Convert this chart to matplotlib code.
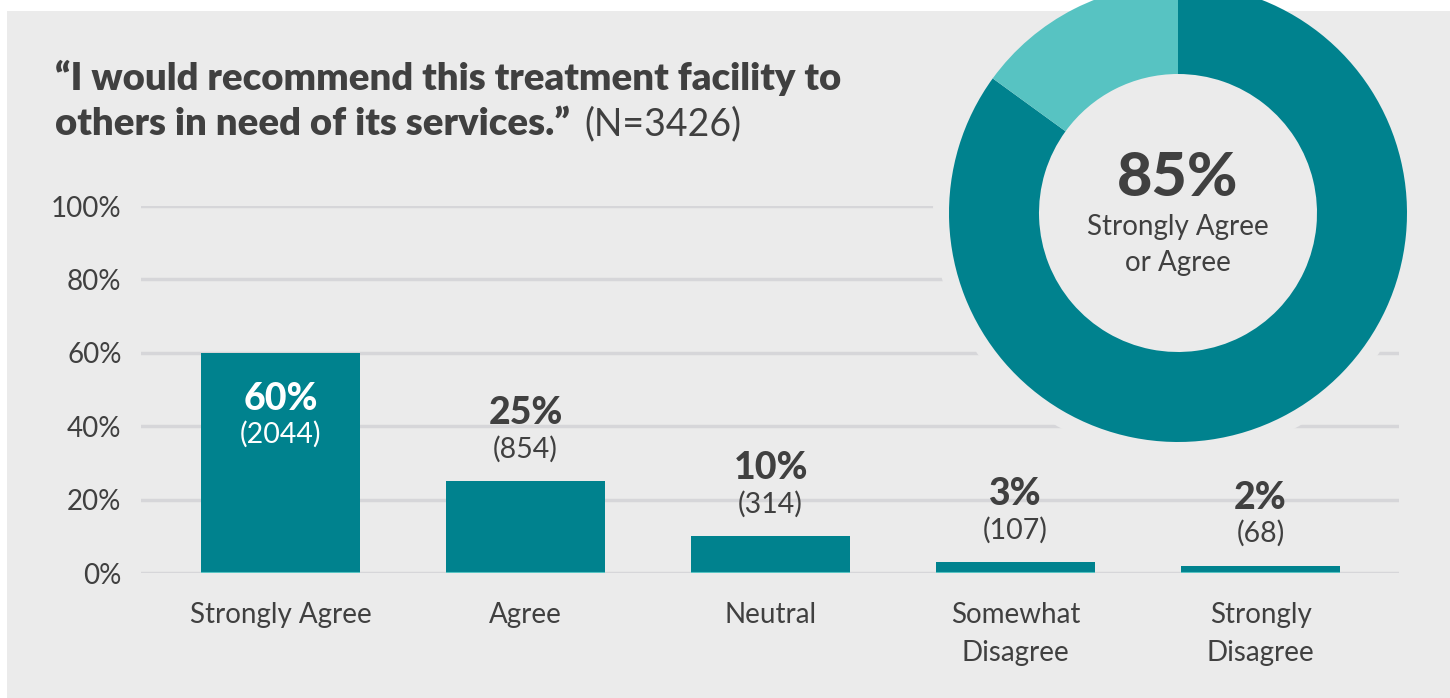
import matplotlib.pyplot as plt
from matplotlib.patches import Rectangle, Circle

# ---- data ----
categories = ["Strongly Agree", "Agree", "Neutral", "Somewhat\nDisagree", "Strongly\nDisagree"]
percents = [60, 25, 10, 3, 2]
counts = [2044, 854, 314, 107, 68]
n_total = 3426
donut_values = [85, 15]
donut_label = "Strongly Agree\nor Agree"
yticks = [0, 20, 40, 60, 80, 100]

# ---- style ----
teal = "#00828e"
light_teal = "#57c3c2"
bg = "#ebebeb"
grid_c = "#d6d6d9"
txt = "#404040"
font = "Lato"

W, H = 1450, 698
fig = plt.figure(figsize=(W / 100, H / 100), dpi=100, facecolor="white")


def px_axes(left, top, width, height):
    # axes placed by pixel box (top-left origin)
    return fig.add_axes([left / W, (H - top - height) / H, width / W, height / H])


panel = Rectangle((7 / W, 0), 1 - 7 / W, (H - 11) / H, transform=fig.transFigure,
                  facecolor=bg, edgecolor="none", zorder=-5)
fig.patches.append(panel)

# ---- title ----
fig.text(55 / W, 1 - 78 / H, "\u201cI would recommend this treatment facility to",
         fontsize=27.5, fontweight="heavy", family=font, color=txt, va="center")
t2 = fig.text(55 / W, 1 - 124 / H, "others in need of its services.\u201d",
              fontsize=27.5, fontweight="heavy", family=font, color=txt, va="center")
fig.canvas.draw()
bb = t2.get_window_extent()
fig.text(bb.x1 / W + 14 / W, 1 - 124 / H, f"(N={n_total})",
         fontsize=27, fontweight="normal", family=font, color=txt, va="center")

# ---- bar chart ----
ax = px_axes(141, 206, 1258, 367)
ax.set_facecolor("none")
x = list(range(len(categories)))
ax.bar(x, percents, width=0.65, color=teal, zorder=3)
ax.hlines([0] * len(x), [i - 0.325 for i in x], [i + 0.325 for i in x],
          color=light_teal, lw=1.5, zorder=4)
ax.set_xlim(-0.57, 4.565)
ax.set_ylim(0, 100)
ax.set_yticks(yticks)
ax.set_yticklabels([f"{v}%" for v in yticks])
ax.set_xticks(x)
ax.set_xticklabels(categories)
ax.yaxis.grid(True, color=grid_c, lw=2.5, zorder=0)
ax.set_axisbelow(True)
for s in ax.spines.values():
    s.set_visible(False)
ax.tick_params(axis="both", length=0, labelsize=20, labelcolor=txt)
ax.tick_params(axis="y", pad=14)
ax.tick_params(axis="x", pad=21)
for lab in ax.get_xticklabels() + ax.get_yticklabels():
    lab.set_family(font)
    lab.set_fontweight("normal")
    lab.set_linespacing(1.55)

for i, (p, c) in enumerate(zip(percents, counts)):
    if p > 40:
        ax.annotate(f"{p}%", (i, p), xytext=(0, -46), textcoords="offset pixels",
                    ha="center", va="center", fontsize=27, fontweight="black",
                    family=font, color="white")
        ax.annotate(f"({c})", (i, p), xytext=(0, -81), textcoords="offset pixels",
                    ha="center", va="center", fontsize=20.5, fontweight="normal",
                    family=font, color="white")
    else:
        ax.annotate(f"{p}%", (i, p), xytext=(0, 68), textcoords="offset pixels",
                    ha="center", va="center", fontsize=27, fontweight="black",
                    family=font, color=txt)
        ax.annotate(f"({c})", (i, p), xytext=(0, 32), textcoords="offset pixels",
                    ha="center", va="center", fontsize=20.5, fontweight="normal",
                    family=font, color=txt)

# ---- donut ----
R = 229
half = 250
dax = px_axes(1178 - half, 213 - half, 2 * half, 2 * half)
dax.axis("off")
halo = Circle((0, 0), (R + 16) / R, facecolor=bg, edgecolor="none", zorder=0)
dax.add_patch(halo)
halo.set_clip_path(panel)
dax.pie(donut_values, colors=[teal, light_teal], startangle=90, counterclock=False,
        radius=1, wedgeprops=dict(width=1 - 139 / R, edgecolor="none"))
dax.set_xlim(-half / R, half / R)
dax.set_ylim(-half / R, half / R)
dax.set_aspect("equal")
dax.text(0, 35 / R, f"{donut_values[0]}%", ha="center", va="center", fontsize=44,
         fontweight="black", family=font, color=txt)
dax.text(0, -32 / R, donut_label, ha="center", va="center", fontsize=20,
         fontweight="normal", family=font, color=txt, linespacing=1.5)

fig.savefig("out.png", dpi=100, facecolor="white")
